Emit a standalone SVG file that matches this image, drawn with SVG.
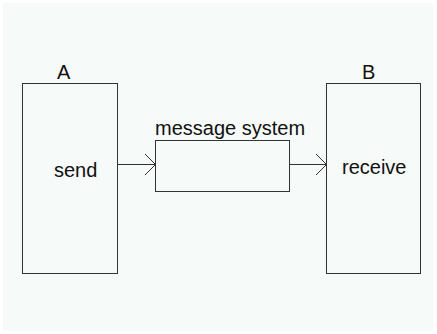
<svg xmlns="http://www.w3.org/2000/svg" width="437" height="334" viewBox="0 0 437 334">
  <defs>
    <style>
      .box { fill: none; stroke: #333; stroke-width: 1; shape-rendering: crispEdges; }
      .wire { fill: none; stroke: #333; stroke-width: 1; }
      .lbl { font-family: "Liberation Sans", Arial, sans-serif; font-size: 20px; fill: #111; }
    </style>
    <marker id="open" viewBox="0 0 12 22" refX="11" refY="11" markerWidth="12" markerHeight="22" markerUnits="userSpaceOnUse" orient="auto">
      <path d="M0,0 L11,11 L0,22" fill="none" stroke="#333" stroke-width="1"/>
    </marker>
  </defs>
  <rect x="0" y="0" width="437" height="334" fill="#ffffff"/>
  <rect x="3" y="3" width="430" height="328" fill="#f6faf8"/>

  <g id="nodeA">
    <rect class="box" x="22.5" y="83.5" width="95" height="190"/>
    <text class="lbl" x="57" y="79">A</text>
    <text class="lbl" x="54" y="177">send</text>
  </g>

  <g id="messageSystem">
    <rect class="box" x="155.5" y="140.5" width="134" height="51"/>
    <text class="lbl" x="155" y="135">message system</text>
  </g>

  <g id="nodeB">
    <rect class="box" x="326.5" y="83.5" width="94" height="190"/>
    <text class="lbl" x="362" y="79">B</text>
    <text class="lbl" x="342" y="174">receive</text>
  </g>

  <g id="connectors">
    <line class="wire" x1="118" y1="164.5" x2="155.5" y2="164.5" marker-end="url(#open)"/>
    <line class="wire" x1="290" y1="164.5" x2="326.5" y2="164.5" marker-end="url(#open)"/>
  </g>
</svg>
